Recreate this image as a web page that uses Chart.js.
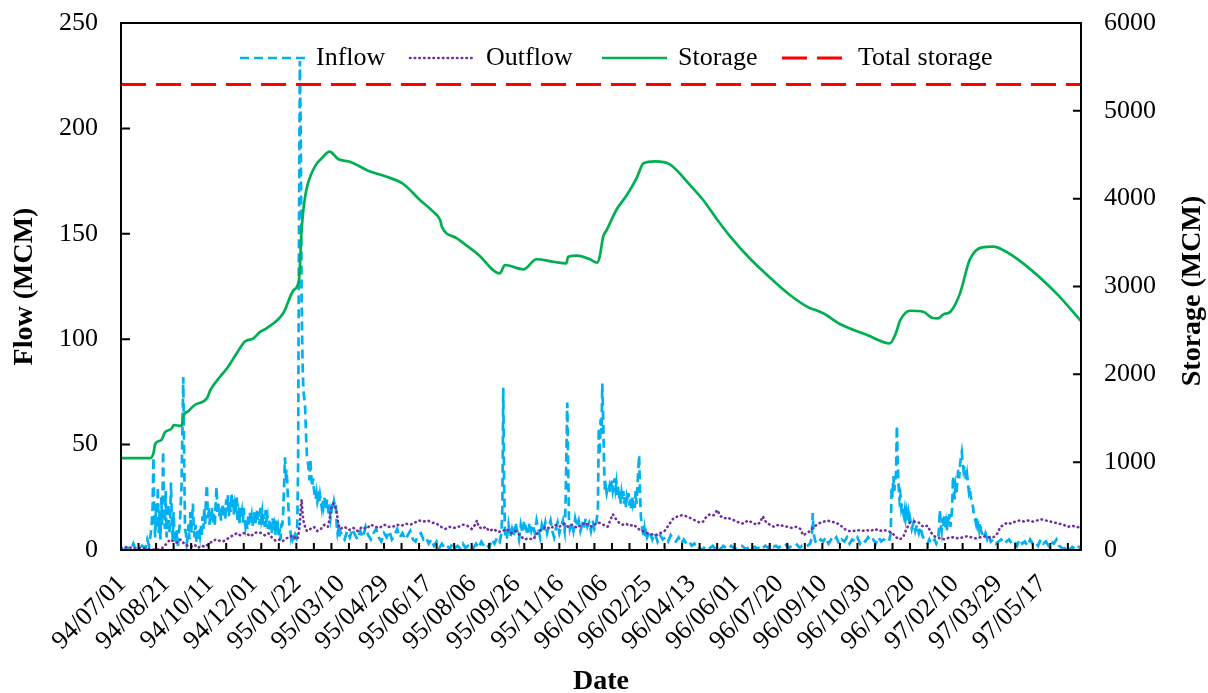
<!DOCTYPE html>
<html><head><meta charset="utf-8">
<script src="https://cdn.jsdelivr.net/npm/chart.js@4.4.1/dist/chart.umd.min.js"></script>
<style>html,body{margin:0;padding:0;background:#fff;}#wrap{width:1208px;height:693px;}</style>
</head><body><div id="wrap"><canvas id="c" width="1208" height="693"></canvas></div>
<script>
// x = day index from 94/07/01
const dateLabels = ['94/07/01','94/08/21','94/10/11','94/12/01','95/01/22','95/03/10','95/04/29','95/06/17','95/08/06','95/09/26','95/11/16','96/01/06','96/02/25','96/04/13','96/06/01','96/07/20','96/09/10','96/10/30','96/12/20','97/02/10','97/03/29','97/05/17'];
const labelEvery = 50;
const lastDay = 1095;

const inflow = [[0,0.5],[4,0],[8,1],[12,0.5],[14,3],[16,1],[20,0.5],[24,2],[28,1],[30,5],[32,2],[34,8],[35,12],[36,20],
[37,44],[38,15],[39,6],[40,22],[41,10],[42,30],[43,8],[44,18],[45,5],[46,25],[47,12],[48,47],[49,20],[50,10],[51,28],[52,6],[53,15],[54,22],[55,8],[56,12],[57,32],[58,14],[59,5],[60,18],[61,8],[62,3],[63,10],[64,6],[65,2],[66,8],[67,12],[68,20],[69,30],[70,55],[71,82],[72,45],[73,10],[74,8],[75,3],
[76,6],[77,12],[78,5],[79,18],[80,8],[81,14],[82,22],[83,10],[84,6],[85,12],[86,4],[87,9],[88,5],[89,10],[90,7],[91,12],[92,6],[93,16],[94,10],[95,20],[96,12],[97,25],[98,31],[99,15],[100,20],[101,12],[102,18],[103,14],[104,20],[105,13],[106,17],[107,12],[108,22],[109,30],[110,18],[111,22],[112,16],[113,20],[114,14],[115,18],[116,22],[117,16],[118,20],[119,15],[120,24],[121,18],[122,26],[123,16],[124,22],[125,18],[126,27],[127,20],[128,24],[129,16],[130,21],[131,18],[132,25],[133,14],[134,17],[135,12],[136,20],[137,15],[138,18],[139,13],[140,20],[141,15],[142,11],[143,14],[144,10],[145,16],[146,12],[147,18],[148,13],[149,16],[150,11],[151,15],[152,18],[153,12],[154,15],[155,19],[156,14],[157,18],[158,12],[159,20],[160,15],[161,18],[162,12],[163,17],[164,11],[165,19],[166,14],[167,16],[168,10],[169,14],[170,9],[171,13],[172,8],[173,15],[174,10],[175,12],[176,7],[177,14],[178,9],[179,11],[180,6],[181,10],[182,5],[183,12],[184,12],[185,18],[186,30],[187,44],[188,36],[189,38],[190,28],[191,20],[192,12],[193,10],[194,6],[195,8],[196,5],[197,6],[198,4],[199,7],[200,6],
[201,10],[202,40],[203,150],[204,232],[205,200],[206,120],[207,90],[208,76],[209,72],[210,68],[211,55],[212,45],[213,43],[214,38],[215,33],[216,43],[217,35],[218,30],[219,34],[220,29],[221,26],[222,24],[223,27],[224,23],[225,25],[226,22],[227,26],[228,23],[229,20],[230,24],[231,21],[232,25],[233,22],[234,19],[235,24],[236,20],[237,17],[238,19],[239,15],[240,18],[241,22],[242,20],[243,23],[244,21],[245,22],[246,12],[247,8],[248,10],[249,6],[250,9],
[252,7],[255,5],[258,9],[261,6],[264,10],[267,7],[270,5],[273,9],[276,6],[279,11],[282,7],[285,5],[288,8],[291,10],[294,6],[297,4],[300,8],[303,6],[306,9],[309,5],[312,7],[315,10],[318,6],[321,8],[324,5],[327,7],[330,9],[333,5],[336,4],[339,7],[342,8],[345,5],[348,6],[351,3],[354,5],[357,2],[360,4],[363,1],[366,3],[369,1],[372,2],[375,0.5],[378,3],[381,1],[384,2],[387,0.5],[390,3],[393,1],[396,2],[399,0.5],[402,1],[405,3],[408,1],[411,4],[414,2],[417,3],[420,1],[423,5],[426,3],[429,6],[432,4],[434,8],[435,20],[436,77],[437,30],[438,8],[440,5],[442,12],[444,6],[446,10],[448,7],[450,13],[452,9],[454,5],[456,12],[458,8],[460,14],[462,10],[464,7],[466,13],[468,9],[470,12],[472,8],[474,14],[476,10],[478,6],[480,12],[482,9],[484,13],[486,8],[488,11],[490,14],[492,9],[494,6],[496,10],[498,13],[500,8],[502,11],[504,14],[506,9],[507,20],[508,45],[509,70],[510,40],[511,15],[512,10],[514,13],[516,9],[518,15],[520,11],[522,14],[524,9],[526,12],[528,10],[530,15],[532,11],[534,13],[536,9],[538,14],[540,10],[542,12],[544,20],[545,58],[546,45],[547,62],[548,55],[549,79],[550,62],[551,40],[552,28],[553,30],[554,27],[555,29],[556,28],[557,30],[558,27],[559,30],[560,33],[561,28],[562,30],[563,34],[564,29],[565,32],[566,26],[567,30],[568,24],[569,28],[570,22],[571,27],[572,24],[573,28],[574,22],[575,26],[576,20],[577,25],[578,23],[579,27],[580,21],[581,25],[582,19],[583,26],[584,22],[585,24],[586,20],[587,28],[588,22],[589,30],[590,38],[591,45],[592,27],[593,16],[594,12],[595,9],[596,7],[597,10],[598,6],[599,8],
[600,6],[603,9],[606,5],[609,8],[612,4],[615,7],[618,5],[621,6],[624,4],[627,7],[630,5],[633,4],[636,6],[639,3],[642,5],[645,3],[648,4],[651,2],[654,3],[657,0.5],[660,1],[663,0],[666,1.5],[669,0.5],[672,1],[675,2],[678,0.5],[681,1.5],[684,0.5],[687,2],[690,1],[693,0.5],[696,2],[699,1],[702,0.5],[705,1.5],[708,2],[711,1],[714,0.5],[717,2],[720,1],[723,1.5],[726,0.5],[729,2],[732,1],[735,2],[738,1],[741,2.5],[744,1.5],[747,2],[750,1],[753,2],[756,1.5],[759,2.5],[762,1],[765,2],[768,1.5],[771,2.5],[774,1],[777,2],[780,1.5],[783,2],[786,3],[788,6],[789,17.5],[790,8],[792,4],[795,3],[798,5],[801,4],[804,6],[807,3],[810,5],[813,4],[816,6],[819,3],[822,5],[825,4],[828,6],[831,3],[834,5],[837,4],[840,6],[843,3],[846,5],[849,4],[852,6],[855,4],[858,5],[861,3],[864,6],[867,4],[870,5],[873,4],[876,4],[878,8],
[879,30],[880,25],[881,35],[882,28],[883,33],[884,36],[885,59],[886,40],[887,30],[888,24],[889,26],[890,20],[891,22],[892,18],[893,16],[894,19],[895,15],[896,18],[897,14],[898,17],[899,12],[900,15],[902,10],[904,13],[906,9],[908,12],[910,8],[912,11],[914,7],[916,5],[918,4],[920,3],[922,5],[924,3],[926,4],[928,5],[930,3],[932,5],[933,10],[934,19],[935,12],[936,9],[937,15],[938,11],[939,17],[940,10],[941,13],[942,9],[943,16],[944,12],[945,17],[946,11],[947,15],[948,20],[949,35],[950,28],[951,24],[952,30],[953,27],[954,33],[955,38],[956,34],[957,40],[958,44],[959,46.5],[960,42],[961,38],[962,40],[963,36],[964,33],[965,36],[966,32],[967,28],[968,30],[969,26],[970,24],[971,22],[972,20],[973,16],[974,15],[975,13],[976,16],[977,12],[978,14],[979,10],[980,13],[981,9],[982,8],[984,6],[986,8],[988,5],[990,7],[992,4],[995,5],[998,3],[1001,4],[1004,5],[1007,3],[1010,4],[1013,5],[1016,3],[1019,4],[1022,2],[1025,5],[1028,3],[1031,4],[1034,2],[1037,5],[1040,3],[1043,4],[1046,2],[1049,5],[1052,3],[1055,4],[1058,2],[1061,4],[1064,3],[1067,5],[1070,2],[1073,1],[1076,0.5],[1079,2],[1082,0],[1085,1.5],[1088,0.5],[1091,2],[1094,1],[1095,0.5]];

const outflow = [[0,1],[8,1.5],[16,0.5],[24,1],[32,0.5],[40,0],[46,0.5],[52,3],[56,5],[60,4],[64,3.5],[68,5],[72,3],[76,2],[80,1.5],[84,2.5],[88,1],[92,2],[96,1.5],[100,3],[104,4],[108,5],[112,4.5],[116,4],[120,5],[124,6],[128,7],[132,8],[136,7],[140,8],[144,7.5],[148,6.5],[152,8],[156,8.5],[160,8],[164,7],[168,8],[172,6],[176,4.5],[180,5],[184,4],[188,5.5],[192,6],[196,7],[200,5],[202,6],[204,12],[205,20],[206,24],[207,18],[208,14],[210,11],[212,9],[216,10],[220,11],[224,9],[228,10],[232,12],[236,11],[238,15],[240,20],[242,22],[244,21],[246,18],[248,12],[250,10],[255,11],[260,9.5],[265,10.5],[270,9],[275,11],[280,10],[285,12],[290,11],[295,10.5],[300,12],[305,11],[310,11],[315,12],[320,11.5],[325,12.5],[330,12],[335,13],[340,14],[345,13.5],[350,14],[355,13],[360,12.5],[365,11],[370,10],[375,11],[380,10.5],[385,11],[390,12],[395,11.5],[400,10],[404,12],[406,14],[408,11],[412,10],[416,11],[420,9],[425,10],[430,8.5],[435,9],[440,10],[445,8],[450,9],[455,7],[460,5],[465,5.5],[470,5],[475,8],[480,10],[485,11],[490,10],[495,12],[500,11],[505,12.5],[510,11],[515,12],[520,10.5],[525,12],[530,13],[535,11],[540,12],[545,13],[550,12],[555,11],[558,14],[561,17],[564,15],[568,13],[572,12],[576,12.5],[580,11.5],[585,12],[590,10],[595,9],[600,8],[605,7.5],[610,7],[615,8],[620,9],[625,12],[630,15],[635,16],[640,16.5],[645,16],[650,15],[655,14],[660,13],[664,13.5],[668,16],[672,17],[676,16.5],[680,19],[684,16],[688,15],[692,15.5],[696,14.5],[700,14],[705,13],[710,12.5],[715,14],[720,13],[725,12],[729,13],[732,16],[736,13],[740,12],[745,11],[750,12],[755,11.5],[760,11],[765,10.5],[770,11],[775,10],[778,7],[782,8],[786,9],[790,11],[794,12],[798,13],[802,13.5],[806,14],[810,13.5],[815,13],[820,12],[825,10],[830,9],[835,9],[840,9.5],[845,9],[850,9.5],[855,9],[860,10],[865,9],[870,9.5],[875,9],[880,8],[884,6],[888,5],[892,6],[896,10],[900,13],[905,13.5],[910,13],[915,11],[920,11.5],[923,9],[926,7],[930,6],[935,5.5],[940,5],[945,6],[950,6],[955,5.5],[960,6],[965,6.5],[970,6],[975,5.5],[980,6],[985,6.5],[990,6],[995,6],[1000,8],[1003,11],[1007,12],[1011,13],[1015,12.5],[1020,13.5],[1025,14],[1030,13.5],[1035,14],[1040,13.5],[1045,14],[1050,14.5],[1055,14],[1060,13.5],[1065,13],[1070,12.5],[1075,12],[1080,11],[1085,11.5],[1090,11],[1095,10.5]];

const storage = [[0,1045],[33,1045],[37,1100],[39,1207],[46,1252],[50,1336],[58,1386],[60,1423],[69,1412],[71,1518],[77,1583],[84,1651],[98,1727],[102,1822],[113,1973],[121,2069],[132,2239],[141,2372],[151,2410],[159,2486],[166,2524],[185,2695],[197,2960],[203,3074],[206,3643],[210,4022],[221,4364],[229,4460],[238,4535],[248,4448],[261,4421],[282,4318],[303,4250],[322,4167],[341,3985],[356,3852],[364,3757],[366,3681],[383,3549],[408,3359],[432,3150],[438,3245],[459,3196],[474,3310],[493,3282],[508,3264],[510,3339],[520,3351],[535,3310],[543,3271],[546,3339],[550,3567],[554,3643],[565,3871],[577,4042],[588,4232],[596,4403],[609,4425],[626,4391],[649,4156],[664,3985],[679,3776],[695,3567],[717,3321],[737,3131],[763,2903],[786,2752],[789,2744],[801,2695],[820,2573],[851,2448],[877,2353],[883,2448],[889,2619],[900,2724],[915,2713],[925,2645],[932,2638],[938,2683],[946,2713],[957,2922],[968,3302],[982,3446],[995,3453],[1006,3416],[1029,3264],[1067,2922],[1095,2607]];

const totalStorage = 5300;

const toXY = arr => arr.map(p => ({x: p[0], y: p[1]}));
const FONT = "'Liberation Serif', 'Times New Roman', serif";
Chart.defaults.font.family = FONT;
Chart.defaults.color = '#000';

const framePlugin = {
  id: 'frame',
  afterDatasetsDraw(chart) {
    const {ctx, chartArea: a, scales} = chart;
    ctx.save();
    ctx.setLineDash([]);
    ctx.strokeStyle = '#000';
    ctx.lineWidth = 2;
    ctx.strokeRect(a.left, a.top, a.right - a.left, a.bottom - a.top);
    ctx.beginPath();
    for (let d = 20; d < lastDay; d += 20) {
      const x = scales.x.getPixelForValue(d);
      ctx.moveTo(x, a.bottom); ctx.lineTo(x, a.bottom - 7);
    }
    scales.y.ticks.forEach(t => { const y = scales.y.getPixelForValue(t.value); ctx.moveTo(a.left, y); ctx.lineTo(a.left + 9, y); });
    scales.y2.ticks.forEach(t => { const y = scales.y2.getPixelForValue(t.value); ctx.moveTo(a.right, y); ctx.lineTo(a.right - 8, y); });
    ctx.stroke();
    ctx.restore();
  },
  afterDraw(chart) {
    const {ctx} = chart;
    ctx.save();
    const starts = [240, 410, 602, 782];
    const ly = 58;
    chart.data.datasets.forEach((ds, i) => {
      const x0 = starts[i];
      ctx.beginPath();
      ctx.setLineDash(ds.borderDash || []);
      ctx.lineCap = ds.borderCapStyle || 'butt';
      ctx.strokeStyle = ds.borderColor;
      ctx.lineWidth = ds.borderWidth;
      ctx.moveTo(x0, ly); ctx.lineTo(x0 + 65, ly);
      ctx.stroke();
      ctx.setLineDash([]);
      ctx.fillStyle = '#000';
      ctx.font = '26px ' + FONT;
      ctx.textAlign = 'left';
      ctx.textBaseline = 'middle';
      ctx.fillText(ds.label, x0 + 76, ly);
    });
    ctx.translate(1193, 291);
    ctx.rotate(-Math.PI / 2);
    ctx.font = 'bold 28px ' + FONT;
    ctx.textAlign = 'center';
    ctx.textBaseline = 'middle';
    ctx.fillStyle = '#000';
    ctx.fillText('Storage (MCM)', 0, 0);
    ctx.restore();
  }
};

const fixVertical = w => s => { s.width = w; s.paddingTop = 0; s.paddingBottom = 0; };

new Chart(document.getElementById('c'), {
  type: 'line',
  data: {
    datasets: [
      {label: 'Inflow', data: toXY(inflow), yAxisID: 'y', borderColor: '#00B0F0', borderWidth: 2.7, borderDash: [9, 5], pointRadius: 0, tension: 0, fill: false, order: 4},
      {label: 'Outflow', data: toXY(outflow), yAxisID: 'y', borderColor: '#7030A0', borderWidth: 2.6, borderDash: [0.5, 4.2], borderCapStyle: 'round', pointRadius: 0, tension: 0, fill: false, order: 3},
      {label: 'Storage', data: toXY(storage), yAxisID: 'y2', borderColor: '#00B050', borderWidth: 2.7, pointRadius: 0, cubicInterpolationMode: 'monotone', fill: false, order: 2},
      {label: 'Total storage', data: [{x: 0, y: totalStorage}, {x: lastDay, y: totalStorage}], yAxisID: 'y2', borderColor: '#FF0000', borderWidth: 3.2, borderDash: [25, 10], pointRadius: 0, fill: false, order: 1}
    ]
  },
  options: {
    responsive: false,
    animation: false,
    devicePixelRatio: 1,
    layout: {padding: {top: 23, left: 0, right: 0, bottom: 0}},
    plugins: {legend: {display: false}, tooltip: {enabled: false}},
    scales: {
      x: {
        type: 'linear', min: 0, max: lastDay,
        afterBuildTicks: s => { s.ticks = dateLabels.map((_, i) => ({value: i * labelEvery})); },
        ticks: {autoSkip: false, minRotation: 45, maxRotation: 45, padding: 19, labelOffset: 1, font: {size: 26}, color: '#000',
          callback: v => dateLabels[Math.round(v / labelEvery)] || ''},
        grid: {display: false, drawTicks: false}, border: {display: false},
        title: {display: true, text: 'Date', font: {size: 28, weight: 'bold', lineHeight: 0.8}, padding: 0, color: '#000'},
        afterFit: s => { s.height = 143; }
      },
      y: {
        position: 'left', min: 0, max: 250,
        ticks: {stepSize: 50, padding: 23, font: {size: 26}, color: '#000', callback: v => String(v)},
        grid: {display: false, drawTicks: false}, border: {display: false},
        title: {display: true, text: 'Flow (MCM)', font: {size: 28, weight: 'bold'}, padding: {top: 8, bottom: 0}, color: '#000'},
        afterFit: fixVertical(121)
      },
      y2: {
        position: 'right', min: 0, max: 6000,
        ticks: {stepSize: 1000, padding: 23, font: {size: 26}, color: '#000', callback: v => String(v)},
        grid: {display: false, drawTicks: false}, border: {display: false},
        afterFit: fixVertical(127)
      }
    }
  },
  plugins: [framePlugin]
});
</script></body></html>
